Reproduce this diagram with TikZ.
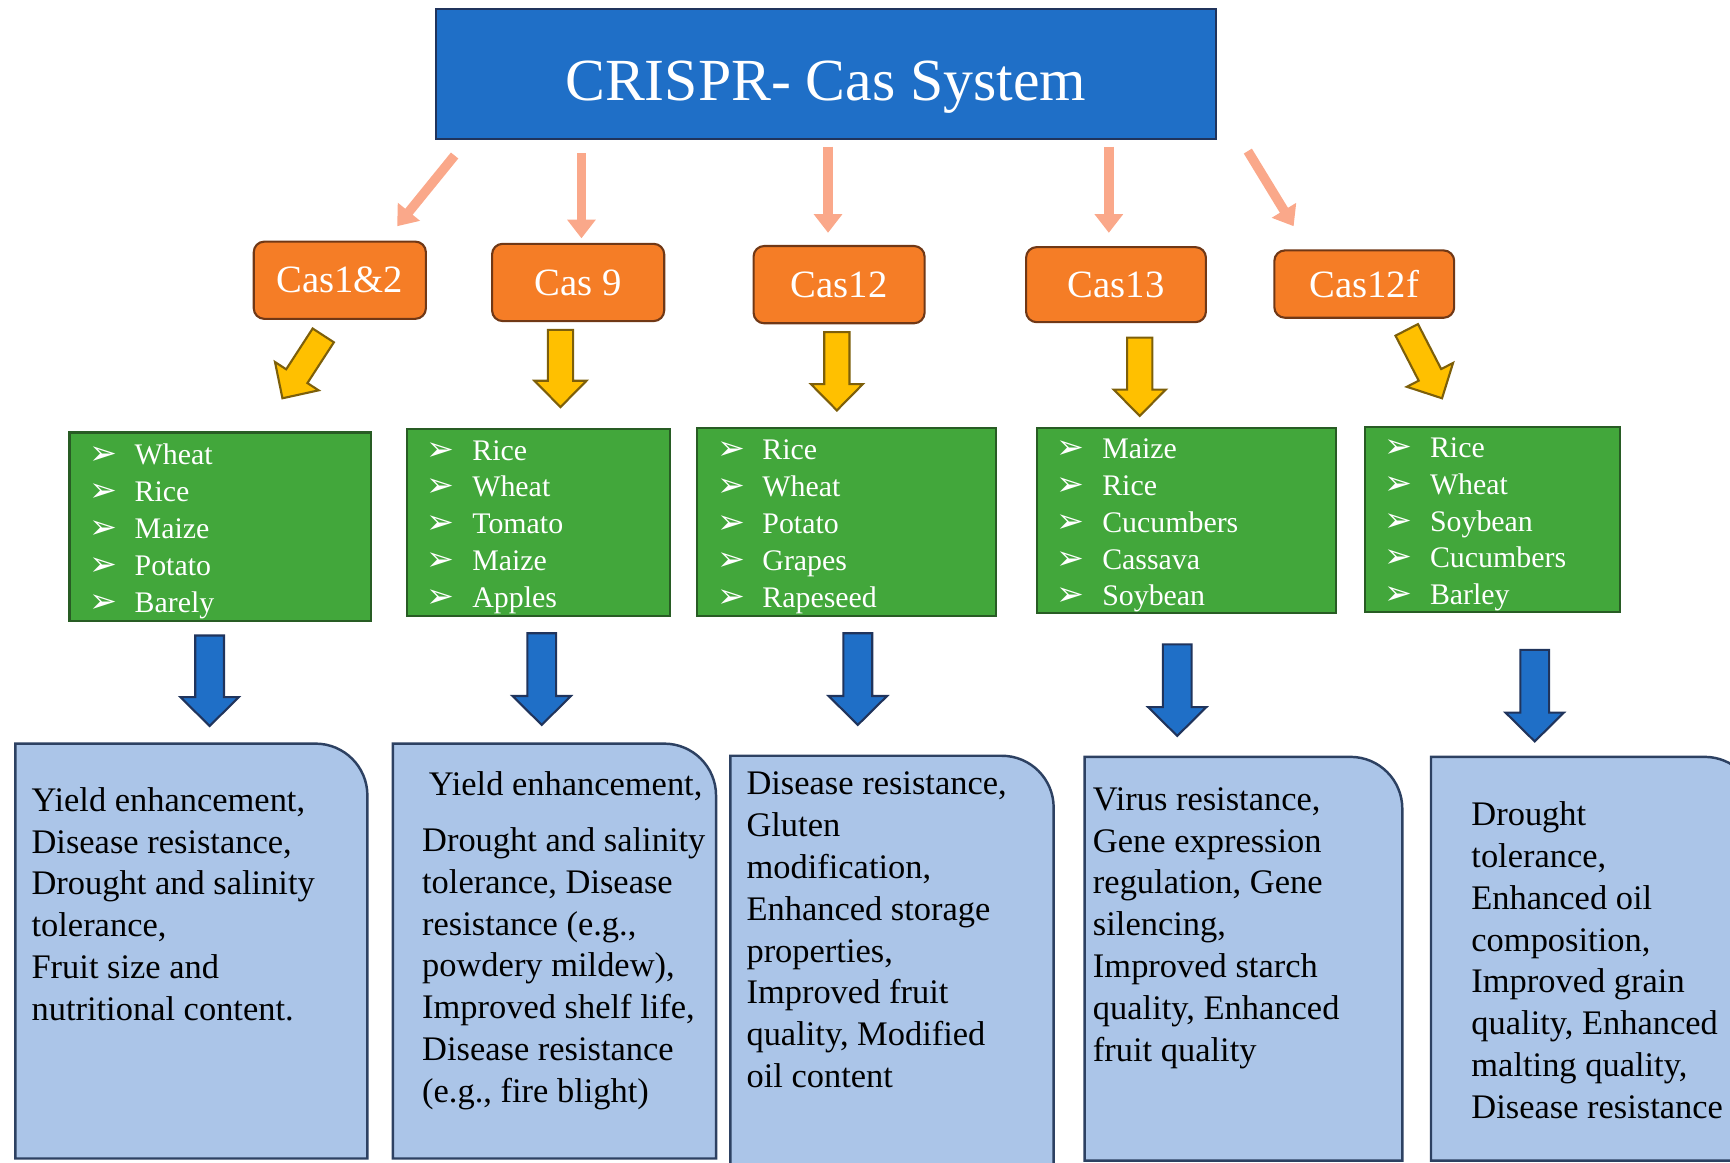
\documentclass[tikz,border=0pt]{standalone}
\usepackage{fontspec}
\setmainfont{Liberation Serif}
\newfontfamily\symf{DejaVu Sans}
\usetikzlibrary{arrows.meta,calc}
\definecolor{titleblue}{RGB}{31,111,199}
\definecolor{titleedge}{RGB}{32,52,92}
\definecolor{casorange}{RGB}{245,125,38}
\definecolor{casedge}{RGB}{112,56,22}
\definecolor{salmon}{RGB}{250,168,138}
\definecolor{gold}{RGB}{255,192,0}
\definecolor{goldedge}{RGB}{125,95,10}
\definecolor{leafgreen}{RGB}{66,167,59}
\definecolor{leafedge}{RGB}{40,92,36}
\definecolor{paleblue}{RGB}{171,197,232}
\definecolor{paleedge}{RGB}{45,65,98}
\newcommand\dpx{0.3139pt}
\newcommand\bul{\makebox[12.9pt][l]{\fontsize{9.5}{10.5}\symf\char"27A2}}
\newcommand\blockarrow[6]{%
  \coordinate (hb) at ($(#3)!#6!(#2)$);
  \draw[#1] ($(#2)!#4!90:(#3)$) -- ($(hb)!#4!90:(#3)$) -- ($(hb)!#5!90:(#3)$) -- (#3)
    -- ($(hb)!#5!-90:(#3)$) -- ($(hb)!#4!-90:(#3)$) -- ($(#2)!#4!-90:(#3)$) -- cycle;}
\tikzset{
  titlebox/.style={draw=titleedge, fill=titleblue, text=white, line width=0.6pt, minimum width=707*\dpx, minimum height=118*\dpx, text height=15pt, text depth=0pt, font=\fontsize{17}{20}\selectfont},
  casbox/.style={draw=casedge, fill=casorange, text=white, line width=0.6pt, rounded corners=3pt, font=\fontsize{11}{13}\selectfont},
  pinkarr/.style={draw=salmon, line width=2.7pt, -{Triangle[width=7.8pt,length=5.3pt]}},
  goldarr/.style={draw=goldedge, fill=gold, line width=0.6pt},
  bluearr/.style={draw=titleedge, fill=titleblue, line width=0.6pt},
  cropbox/.style={draw=leafedge, fill=leafgreen, text=white, line width=0.6pt, inner xsep=5.65pt, inner ysep=0pt, align=left, font=\fontsize{8.5}{10.5}\selectfont},
  appbox/.style={draw=paleedge, fill=paleblue, line width=0.7pt},
  apptext/.style={anchor=north west, inner sep=0pt, align=left, font=\fontsize{9.8}{11.9}\selectfont}
}
\begin{document}
\begin{tikzpicture}[x=0.011033cm, y=-0.011033cm]
\useasboundingbox (0,0) rectangle (1568,1054);
\clip (0,0) rectangle (1568,1054);
\node[titlebox] (crispr) at (748.5,67) {CRISPR- Cas System};
\foreach \n/\cx/\cy/\w/\h/\t in {1/308/254/156/70/Cas1\&2, 2/524/256/156/70/Cas 9, 3/760.5/258/155/70/Cas12, 4/1011.5/258/163/68/Cas13, 5/1236.5/257.5/163/61/Cas12f}
  \node[casbox, minimum width=\w*\dpx, minimum height=\h*\dpx] (cas\n) at (\cx,\cy) {\t};
\draw[pinkarr] ($(crispr.south west)+(18,14)$) -- ($(cas1.north)+(52,-13)$);
\draw[pinkarr] ($(crispr.south -| cas2.north)+(3,12)$) -- ($(cas2.north)+(3,-4)$);
\draw[pinkarr] ($(crispr.south -| cas3.north)+(-10,6)$) -- ($(cas3.north)+(-10,-11)$);
\draw[pinkarr] ($(crispr.south -| cas4.north)+(-6.5,6)$) -- ($(cas4.north)+(-6.5,-12)$);
\draw[pinkarr] ($(crispr.south east)+(28,10)$) -- ($(cas5.north)+(-64,-21)$);
\foreach \n/\ax/\ay/\bx/\by in {1/293/304/256/361, 2/508/299/508/369, 3/758.5/301/758.5/372, 4/1033/306/1033/377, 5/1275/299/1307/361}{
  \coordinate (gy\n) at (\ax,\ay);
  \coordinate (gz\n) at (\bx,\by);
  \blockarrow{goldarr}{gy\n}{gz\n}{3.6pt}{7.4pt}{7.5pt}}
\node[cropbox, minimum width=273*\dpx, minimum height=171*\dpx, text width=74.4pt] (crop1) at (199.5,477.5)
  {\rule{0pt}{8.3pt}\bul Wheat\\\bul Rice\\\bul Maize\\\bul Potato\\\bul Barely};
\node[cropbox, minimum width=238*\dpx, minimum height=169*\dpx, text width=63.4pt] (crop2) at (488,473.5)
  {\rule{0pt}{8.3pt}\bul Rice\\\bul Wheat\\\bul Tomato\\\bul Maize\\\bul Apples};
\node[cropbox, minimum width=271*\dpx, minimum height=170*\dpx, text width=73.8pt] (crop3) at (767.5,473)
  {\rule{0pt}{8.3pt}\bul Rice\\\bul Wheat\\\bul Potato\\\bul Grapes\\\bul Rapeseed};
\node[cropbox, minimum width=271*\dpx, minimum height=168*\dpx, text width=73.8pt] (crop4) at (1075.5,472)
  {\rule{0pt}{8.3pt}\bul Maize\\\bul Rice\\\bul Cucumbers\\\bul Cassava\\\bul Soybean};
\node[cropbox, minimum width=231*\dpx, minimum height=168*\dpx, text width=61.2pt] (crop5) at (1352.5,471)
  {\rule{0pt}{8.3pt}\bul Rice\\\bul Wheat\\\bul Soybean\\\bul Cucumbers\\\bul Barley};
\foreach \n/\ax/\ay/\by in {1/190/576/658, 2/491/574/657, 3/777.5/574/657, 4/1067/584/667, 5/1391/589/672}{
  \coordinate (by\n) at (\ax,\ay);
  \coordinate (bz\n) at (\ax,\by);
  \blockarrow{bluearr}{by\n}{bz\n}{4.1pt}{8.3pt}{8.2pt}}
\foreach \l/\t/\r/\b in {14/674/333/1050, 356/674/649/1050, 662/685/955/1058, 983/686/1271/1052, 1297/686/1592/1052}
  \draw[appbox] (\l,\b) -- (\l,\t) -- (\r-47,\t) arc[start angle=90, end angle=0, radius=14.75pt] -- (\r,\b) -- cycle;
\node[apptext] (use1) at (28,713) {Yield enhancement,\\Disease resistance,\\Drought and salinity\\tolerance,\\Fruit size and\\nutritional content.};
\node[apptext] (use2) at (382,699) {\hspace*{1.9pt}Yield enhancement,\\[3.9pt]Drought and salinity\\tolerance, Disease\\resistance (e.g.,\\powdery mildew),\\Improved shelf life,\\Disease resistance\\(e.g., fire blight)};
\node[apptext] (use3) at (676,699) {Disease resistance,\\Gluten\\modification,\\Enhanced storage\\properties,\\Improved fruit\\quality, Modified\\oil content};
\node[apptext] (use4) at (990,713) {Virus resistance,\\Gene expression\\regulation, Gene\\silencing,\\Improved starch\\quality, Enhanced\\fruit quality};
\node[apptext] (use5) at (1333,726) {Drought\\tolerance,\\Enhanced oil\\composition,\\Improved grain\\quality, Enhanced\\malting quality,\\Disease resistance};
\end{tikzpicture}
\end{document}
